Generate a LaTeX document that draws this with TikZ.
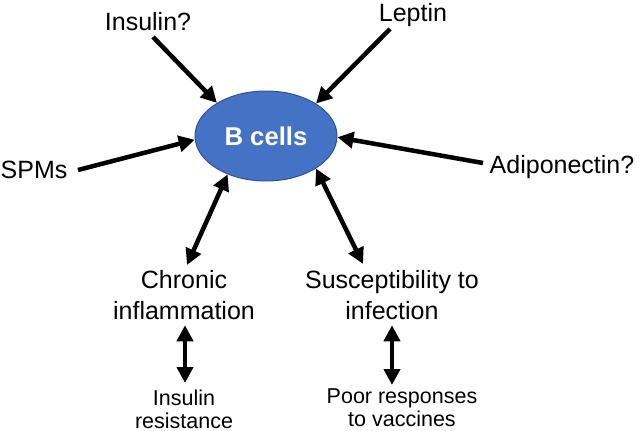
\documentclass[tikz,border=0pt]{standalone}
\usepackage{fontspec}
\setmainfont{Liberation Sans}
\usetikzlibrary{arrows.meta,shapes.geometric}
\definecolor{bfill}{HTML}{4472C4}
\definecolor{bline}{HTML}{2F528F}
\begin{document}
\begin{tikzpicture}[x=1pt,y=-1pt,
  lbl/.style={inner sep=0pt, font=\fontsize{25}{31.5}\selectfont, align=center},
  sml/.style={inner sep=0pt, font=\fontsize{21.5}{22.5}\selectfont, align=center},
  arr/.style={line width=4.5pt, -{Triangle[length=16pt,width=16pt]}},
  dbl/.style={line width=4.5pt, {Triangle[length=16pt,width=16pt]}-{Triangle[length=16pt,width=16pt]}},
  cell/.style={ellipse, draw=bline, line width=1pt, fill=bfill, inner sep=0pt,
    minimum width=142pt, minimum height=90pt, text=white,
    font=\fontsize{25.7}{30}\selectfont\bfseries}
  ]
\path[use as bounding box] (0,0) rectangle (640,431);
\node[cell] (bc) at (266,136) {B cells};
\node[lbl, anchor=base] (ins) at (148,30) {Insulin?};
\node[lbl, anchor=base] (lep) at (413,21) {Leptin};
\node[lbl, anchor=base] (spm) at (34,178) {SPMs};
\node[lbl, anchor=base] (adi) at (562,173) {Adiponectin?};
\node[lbl, anchor=north] (chr) at (184,270) {Chronic\\inflammation};
\node[lbl, anchor=north] (sus) at (392,270) {Susceptibility to\\infection};
\node[sml, anchor=north] (ir) at (184,390) {Insulin\\resistance};
\node[sml, anchor=north] (pr) at (402,389) {Poor responses\\to vaccines};
\coordinate (tIns) at (153,37);
\coordinate (tLep) at (390,29);
\coordinate (tSPM) at (78,170);
\coordinate (tAdi) at (483,163);
\draw[arr] (tIns) -- (bc.146);
\draw[arr] (tLep) -- (bc.33);
\draw[arr] (tSPM) -- (bc.183);
\draw[arr] (tAdi) -- (bc.-1);
\draw[dbl] (bc.225) -- ([xshift=3pt,yshift=5pt]chr.north);
\draw[dbl] (bc.-33.7) -- ([xshift=-29pt,yshift=6pt]sus.north);
\draw[dbl] ([xshift=1pt,yshift=-5pt]chr.south) -- ([xshift=1pt,yshift=7pt]ir.north);
\draw[dbl] ([yshift=-5pt]sus.south) -- ([yshift=4pt]sus.south |- pr.north);
\end{tikzpicture}
\end{document}
